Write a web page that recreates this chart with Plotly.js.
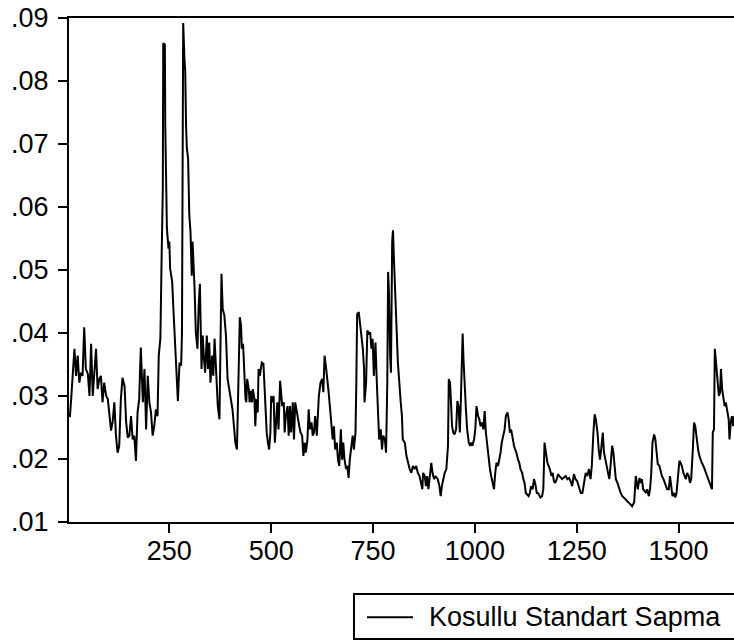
<!DOCTYPE html>
<html>
<head>
<meta charset="utf-8">
<script src="https://cdn.plot.ly/plotly-3.0.1.min.js"></script>
<style>
html, body { margin: 0; padding: 0; overflow: hidden; background: #fff; }
#chart { width: 780px; height: 644px; }
</style>
</head>
<body>
<div id="chart"></div>
<script>
const obs = [
4,6,9,17,21,25,29,33,37,41,45,50,54,58,62,66,70,74,78,82,86,90,95,99,103,107,111,115,119,123,127,131,135,140,144,148,152,156,160,164,168,172,176,180,185,189,193,197,201,205,209,213,217,221,224,228,231,234,235,239,240,242,244,248,250,252,257,260,264,268,271,275,279,281,283,284,287,289,291,293,296,299,302,305,307,310,312,315,319,322,325,329,332,335,338,342,345,348,351,355,358,361,365,369,373,375,378,381,385,389,393,397,401,405,410,
412,416,420,423,426,428,431,434,437,439,441,445,447,450,453,455,459,461,464,467,469,472,475,477,481,483,486,489,492,495,498,500,503,506,509,512,515,518,522,527,531,533,536,540,543,546,549,553,556,559,563,566,569,572,576,579,582,585,589,592,595,599,602,605,608,612,617,621,625,628,631,635,638,641,644,648,651,654,657,661,664,667,671,674,677,680,684,687,690,693,697,700,703,707,709,711,715,718,721,725,728,729,733,736,739,743,746,749,752,756,759,762,765,769,772,775,779,782,785,787,789,792,794,797,799,801,805,808,811,
818,821,823,828,832,836,840,844,848,852,856,860,864,868,871,873,877,880,883,886,890,893,896,900,903,906,909,913,916,919,922,926,930,932,934,936,939,941,944,947,950,954,957,960,963,965,967,970,972,975,978,981,985,988,991,994,998,1001,1004,1008,1011,1014,1017,1021,1024,1027,1030,1034,1037,1040,1044,1047,1050,1053,1057,1060,1063,1066,1070,1073,1076,1080,1083,1086,1089,1093,1096,1099,1102,1106,1109,1112,1116,1119,1122,1125,1129,1132,1135,1138,1142,1145,1148,1152,1155,1158,1161,1165,1168,1171,1174,1178,1181,1184,1188,1191,1194,1197,1201,1204,1207,1210,1214,1217,
1223,1227,1231,1235,1239,1243,1247,1251,1256,1260,1264,1268,1272,1276,1280,1284,1287,1291,1294,1297,1301,1304,1307,1310,1314,1317,1320,1323,1327,1330,1333,1337,1340,1343,1346,1350,1354,1358,1362,1366,1370,1374,1378,1382,1386,1391,1395,1397,1400,1404,1407,1410,1413,1417,1420,1423,1427,1430,1433,1436,1440,1443,1446,1449,1453,1456,1459,1463,1466,1469,1472,1476,1479,1482,1485,1489,1492,1495,1499,1502,1505,1508,1512,1515,1518,1521,1525,1528,1531,1535,1538,1541,1544,1548,1551,1554,1557,1561,1564,1567,1571,1574,1577,1580,1582,1584,1587,1589,1591,1593,1597,1599,1602,1604,1607,1610,1613,1616,1620,1623,1625,1628,1631,1634,1637,1640,1645
];
const kosulluStdSapma = [
.0268,.0268,.0295,.0375,.0332,.0364,.0321,.0337,.0332,.0409,.0343,.0335,.0300,.0383,.0300,.0348,.0375,.0311,.0327,.0332,.0290,.0321,.0300,.0295,.0268,.0245,.0260,.0290,.0237,.0210,.0221,.0295,.0329,.0316,.0258,.0234,.0237,.0268,.0231,.0237,.0197,.0274,.0295,.0377,.0290,.0343,.0247,.0332,.0290,.0274,.0237,.0252,.0279,.0268,.0364,.0391,.0518,.0629,.0860,.0858,.0730,.0651,.0566,.0534,.0545,.0502,.0481,.0438,.0375,.0332,.0292,.0353,.0348,.0401,.0608,.0892,.0836,.0815,.0730,.0693,.0677,.0587,.0560,.0491,.0545,.0502,.0470,.0401,.0375,.0444,.0478,.0343,.0396,.0359,.0337,.0396,.0343,.0385,.0321,.0364,.0332,.0391,.0327,.0284,.0263,.0409,.0494,.0438,.0428,.0396,.0327,.0311,.0295,.0279,.0242,
.0226,.0215,.0321,.0425,.0412,.0375,.0383,.0337,.0295,.0290,.0327,.0311,.0290,.0308,.0290,.0311,.0295,.0252,.0295,.0274,.0343,.0332,.0343,.0353,.0351,.0321,.0268,.0242,.0226,.0215,.0242,.0300,.0290,.0300,.0226,.0268,.0290,.0247,.0324,.0284,.0290,.0242,.0268,.0284,.0237,.0284,.0242,.0290,.0231,.0290,.0274,.0258,.0252,.0242,.0237,.0205,.0226,.0210,.0231,.0279,.0247,.0258,.0237,.0242,.0268,.0237,.0300,.0321,.0327,.0306,.0364,.0343,.0327,.0306,.0284,.0258,.0231,.0252,.0215,.0226,.0199,.0189,.0247,.0199,.0226,.0199,.0184,.0189,.0170,.0199,.0226,.0237,.0215,.0242,.0321,.0430,.0433,.0417,.0396,.0375,.0343,.0290,.0321,.0404,.0399,.0401,.0375,.0391,.0332,.0385,.0327,.0268,.0231,.0247,.0215,.0237,.0231,.0210,.0321,.0497,.0465,.0364,.0337,.0545,.0563,.0523,.0444,.0391,.0353,
.0290,.0268,.0231,.0226,.0205,.0194,.0184,.0178,.0189,.0184,.0189,.0178,.0173,.0162,.0152,.0178,.0173,.0157,.0173,.0152,.0173,.0194,.0178,.0168,.0173,.0170,.0168,.0157,.0141,.0157,.0168,.0178,.0184,.0215,.0221,.0327,.0321,.0295,.0252,.0242,.0239,.0247,.0292,.0284,.0242,.0279,.0343,.0399,.0359,.0311,.0279,.0247,.0226,.0221,.0226,.0221,.0231,.0247,.0284,.0268,.0263,.0252,.0258,.0247,.0276,.0242,.0221,.0199,.0184,.0173,.0162,.0152,.0178,.0194,.0189,.0199,.0210,.0226,.0242,.0247,.0268,.0274,.0263,.0242,.0247,.0231,.0221,.0215,.0210,.0199,.0194,.0184,.0178,.0168,.0162,.0146,.0144,.0141,.0146,.0157,.0152,.0168,.0162,.0146,.0146,.0141,.0139,.0141,.0152,.0226,.0210,.0194,.0189,.0184,.0173,.0178,.0165,.0162,.0168,.0176,.0173,.0170,.0168,.0170,
.0173,.0168,.0170,.0165,.0157,.0176,.0168,.0165,.0152,.0146,.0146,.0162,.0178,.0173,.0184,.0168,.0189,.0242,.0271,.0263,.0242,.0215,.0199,.0215,.0242,.0210,.0199,.0189,.0173,.0168,.0189,.0221,.0210,.0184,.0168,.0162,.0152,.0146,.0141,.0139,.0136,.0133,.0131,.0128,.0125,.0131,.0173,.0162,.0152,.0170,.0162,.0168,.0152,.0149,.0146,.0152,.0141,.0152,.0178,.0226,.0239,.0231,.0205,.0192,.0189,.0178,.0173,.0168,.0162,.0157,.0152,.0152,.0173,.0157,.0141,.0146,.0139,.0146,.0173,.0197,.0194,.0189,.0178,.0173,.0168,.0178,.0173,.0162,.0168,.0215,.0258,.0252,.0231,.0215,.0205,.0199,.0194,.0189,.0184,.0178,.0173,.0168,.0162,.0157,.0152,.0242,.0247,.0375,.0359,.0343,.0311,.0300,.0306,.0343,.0311,.0295,.0284,.0290,.0274,.0263,.0231,.0258,.0268,.0252,.0268,.0263,.0274
];
const seriesName = 'Kosullu Standart Sapma';
const yTickVals = [0.01, 0.02, 0.03, 0.04, 0.05, 0.06, 0.07, 0.08, 0.09];
const yTickText = ['.01', '.02', '.03', '.04', '.05', '.06', '.07', '.08', '.09'];
const xTickVals = [250, 500, 750, 1000, 1250, 1500];
const xTickText = ['250', '500', '750', '1000', '1250', '1500'];

const FONT = 'Liberation Sans, Arial, sans-serif';

const trace = {
  x: obs,
  y: kosulluStdSapma,
  type: 'scatter',
  mode: 'lines',
  name: seriesName,
  line: { color: '#000000', width: 2 },
  showlegend: false
};

// Legend box (drawn as a framed key below the plot, partly cut by the window edge)
const legendShapes = [
  { type: 'rect', xref: 'paper', yref: 'paper', x0: 0.4008, x1: 1.05, y0: -0.2321, y1: -0.1429,
    line: { color: '#000000', width: 2 }, fillcolor: '#ffffff' },
  { type: 'line', xref: 'paper', yref: 'paper', x0: 0.4191, x1: 0.4838, y0: -0.1891, y1: -0.1891,
    line: { color: '#000000', width: 2 } }
];
const legendLabel = {
  xref: 'paper', yref: 'paper', x: 0.5031, y: -0.1885, xanchor: 'left', yanchor: 'middle',
  text: seriesName, showarrow: false,
  font: { family: FONT, size: 27, color: '#000000' }
};

const layout = {
  width: 780,
  height: 644,
  margin: { l: 69, r: 0, t: 18, b: 122, autoexpand: false },
  paper_bgcolor: '#ffffff',
  plot_bgcolor: '#ffffff',
  font: { family: FONT, size: 27, color: '#000000' },
  showlegend: false,
  xaxis: {
    range: [3.7, 1749],
    automargin: false,
    showgrid: false,
    zeroline: false,
    showline: true,
    linecolor: '#000000',
    linewidth: 2,
    mirror: true,
    ticks: 'outside',
    ticklen: 9,
    tickwidth: 2,
    tickcolor: '#000000',
    tickvals: xTickVals,
    ticktext: xTickText,
    ticklabelstandoff: -5,
    tickfont: { family: FONT, size: 27, color: '#000000' }
  },
  yaxis: {
    range: [0.01, 0.09],
    automargin: false,
    showgrid: false,
    zeroline: false,
    showline: true,
    linecolor: '#000000',
    linewidth: 2,
    mirror: true,
    ticks: 'outside',
    ticklen: 9,
    tickwidth: 2,
    tickcolor: '#000000',
    tickvals: yTickVals,
    ticktext: yTickText,
    ticklabelstandoff: 4,
    tickfont: { family: FONT, size: 27, color: '#000000' }
  },
  shapes: legendShapes,
  annotations: [legendLabel]
};

Plotly.newPlot('chart', [trace], layout, { displayModeBar: false, staticPlot: true });
</script>
</body>
</html>
